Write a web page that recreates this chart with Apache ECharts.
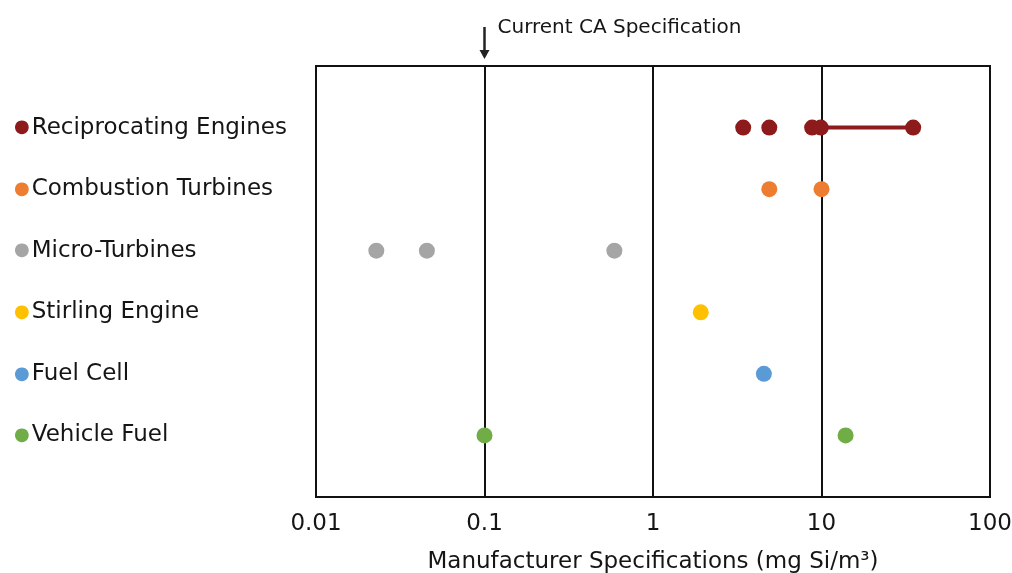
<!DOCTYPE html>
<html><head><meta charset="utf-8">
<script src="https://cdn.jsdelivr.net/npm/echarts@6/dist/echarts.min.js"></script>
<style>html,body{margin:0;padding:0;background:#fff}#c{width:1012px;height:573px}</style>
</head><body><div id="c"></div>
<script>
const categories = ['Reciprocating Engines','Combustion Turbines','Micro-Turbines','Stirling Engine','Fuel Cell','Vehicle Fuel'];
const colors = ['#8E1B1B','#ED7D31','#A5A5A5','#FFC000','#5B9BD5','#70AD47'];
const recipValues = [3.43, 4.9, 8.8, 9.9, 35];
const combustionValues = [4.9, 10];
const microValues = [0.0228, 0.0455, 0.59];
const stirlingValues = [1.92];
const fuelCellValues = [4.55];
const vehicleValues = [0.1, 13.9];
const recipRange = [10, 35];
const tickLabels = ['0.01','0.1','1','10','100'];
const specValue = 0.1;
const specLabel = 'Current CA Specification';
const xTitle = 'Manufacturer Specifications (mg Si/m\u00B3)';

const allValues = [recipValues, combustionValues, microValues, stirlingValues, fuelCellValues, vehicleValues];
const FONT = 'DejaVu Sans';
const n = categories.length;
const rowOf = i => n - i;

const rich = {t:{fontFamily:FONT,fontSize:23,color:'#151515',padding:[0,0,0,2]}};
colors.forEach((c,i)=>{ rich['d'+i] = {color:c,fontSize:18,fontFamily:FONT}; });

const series = [];
series.push({
  type:'line', name:'range', data: recipRange.map(v=>[v,rowOf(0)]),
  symbol:'none', lineStyle:{color:colors[0],width:4}, z:2, silent:true
});
allValues.forEach((vals,i)=>{
  series.push({
    type:'scatter', name:categories[i], data: vals.map(v=>[v,rowOf(i)]),
    symbolSize:16, itemStyle:{color:colors[i],opacity:1}, z:3
  });
});

const chart = echarts.init(document.getElementById('c'), null, {renderer:'canvas'});
chart.setOption({
  animation:false,
  backgroundColor:'#fff',
  grid:{left:316,right:22,top:66,bottom:76,containLabel:false,outerBoundsMode:'none',show:true,borderColor:'#111',borderWidth:2,backgroundColor:'transparent'},
  xAxis:{
    type:'log', logBase:10, min:0.01, max:100,
    axisLine:{show:true,lineStyle:{color:'#111',width:2}},
    axisTick:{show:false},
    splitLine:{show:true,lineStyle:{color:'#111',width:2}},
    minorSplitLine:{show:false},
    axisLabel:{fontFamily:FONT,fontSize:23,color:'#151515',margin:16,
      formatter:(v)=>{ const k=Math.round(Math.log10(v))+2; return tickLabels[k]!==undefined?tickLabels[k]:''; }},
    name:xTitle, nameLocation:'middle', nameGap:54,
    nameTextStyle:{fontFamily:FONT,fontSize:23,color:'#151515'}
  },
  yAxis:{
    type:'value', min:0, max:n+1, interval:1,
    axisLine:{show:false}, axisTick:{show:false}, splitLine:{show:false},
    axisLabel:{
      align:'left', margin:302, rich:rich,
      formatter:(v)=>{ const i=n-v; if(i<0||i>=n||v===0) return ''; return '{d'+i+'|\u25CF}{t|'+categories[i]+'}'; }
    }
  },
  series:series
});

const topPt = chart.convertToPixel({xAxisIndex:0,yAxisIndex:0},[specValue,n+1]);
const x0 = topPt[0], yTop = topPt[1];
chart.setOption({graphic:[
  {type:'line',shape:{x1:x0,y1:yTop-39,x2:x0,y2:yTop-14},style:{stroke:'#222',lineWidth:2.5}},
  {type:'polygon',shape:{points:[[x0-5,yTop-16],[x0+5,yTop-16],[x0,yTop-7]]},style:{fill:'#222'}},
  {type:'text',x:x0+13,y:yTop-38,style:{text:specLabel,font:'20px "'+FONT+'"',fill:'#151515',textVerticalAlign:'middle'}}
]});
</script></body></html>
